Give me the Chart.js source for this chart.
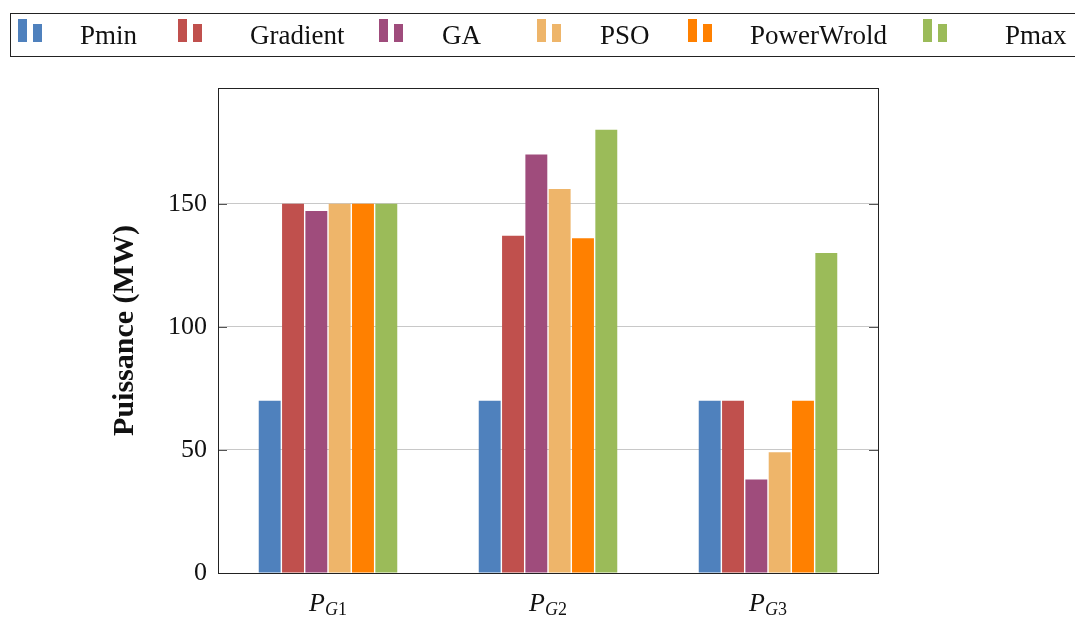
<!DOCTYPE html>
<html>
<head>
<meta charset="utf-8">
<script src="https://cdn.jsdelivr.net/npm/chart.js@4.4.0/dist/chart.umd.min.js"></script>
<style>
  html, body { margin: 0; padding: 0; background: #ffffff; }
  #wrap { position: relative; width: 1075px; height: 617px; overflow: hidden; }
  #myChart { position: absolute; left: 0; top: 0; }
  #legendBox {
    position: absolute; left: 10px; top: 13px; width: 1100px; height: 44px;
    border: 1px solid #222222; box-sizing: border-box;
  }
  .legBar { position: absolute; }
  .legText {
    position: absolute; font-family: "Liberation Serif", serif; font-size: 27px;
    line-height: 27px; color: #111111; white-space: nowrap;
  }
</style>
</head>
<body>
<div id="wrap">
  <canvas id="myChart" width="1075" height="617"></canvas>
  <div id="legendBox"></div>
</div>
<script>
// data
var categories = ['P_G1', 'P_G2', 'P_G3'];
var seriesNames = ['Pmin', 'Gradient', 'GA', 'PSO', 'PowerWrold', 'Pmax'];
var pmin = [70, 70, 70];
var gradient = [150, 137, 70];
var ga = [147, 170, 38];
var pso = [150, 156, 49];
var powerWrold = [150, 136, 70];
var pmax = [150, 180, 130];
var yTicks = [0, 50, 100, 150];

var seriesValues = [pmin, gradient, ga, pso, powerWrold, pmax];
var seriesColors = ['#4F81BD', '#C0504D', '#9F4C7C', '#EEB56A', '#FF8000', '#9BBB59'];

// Build the legend (two little bars + name), pgfplots style
function buildLegend() {
  var box = document.getElementById('legendBox');
  var iconX = [7, 167, 368, 526, 677, 912];   // relative to the box
  var textX = [69, 239, 431, 589, 739, 994];
  for (var i = 0; i < seriesNames.length; i++) {
    var b1 = document.createElement('div');
    b1.className = 'legBar';
    b1.style.left = iconX[i] + 'px'; b1.style.top = '5px';
    b1.style.width = '9px'; b1.style.height = '23px';
    b1.style.background = seriesColors[i];
    box.appendChild(b1);

    var b2 = document.createElement('div');
    b2.className = 'legBar';
    b2.style.left = (iconX[i] + 15) + 'px'; b2.style.top = '10px';
    b2.style.width = '9px'; b2.style.height = '18px';
    b2.style.background = seriesColors[i];
    box.appendChild(b2);

    var t = document.createElement('span');
    t.className = 'legText';
    t.style.left = textX[i] + 'px'; t.style.top = '8px';
    t.textContent = seriesNames[i];
    box.appendChild(t);
  }
}
buildLegend();

// Box around the plot, inner tick marks and the P_{Gi} labels
var framePlugin = {
  id: 'frame',
  afterDraw: function(chart) {
    var ctx = chart.ctx;
    var area = chart.chartArea;
    var yScale = chart.scales.y;
    var xScale = chart.scales.x;
    ctx.save();

    // tick marks on left and right, inside
    ctx.strokeStyle = '#555555';
    ctx.lineWidth = 1;
    for (var i = 0; i < yTicks.length; i++) {
      var py = Math.round(yScale.getPixelForValue(yTicks[i])) + 0.5;
      ctx.beginPath();
      ctx.moveTo(area.left, py); ctx.lineTo(area.left + 9, py);
      ctx.moveTo(area.right, py); ctx.lineTo(area.right - 9, py);
      ctx.stroke();
    }

    // frame
    ctx.strokeStyle = '#222222';
    ctx.strokeRect(Math.round(area.left) + 0.5, Math.round(area.top) + 0.5,
                   Math.round(area.right - area.left), Math.round(area.bottom - area.top));

    // category labels with subscript
    ctx.fillStyle = '#111111';
    ctx.textBaseline = 'alphabetic';
    ctx.textAlign = 'left';
    for (var j = 0; j < categories.length; j++) {
      var parts = categories[j].split('_');
      var main = parts[0];
      var subLetter = parts[1].replace(/[0-9]/g, '');
      var subNum = parts[1].replace(/[^0-9]/g, '');
      var mainFont = 'italic 26px "Liberation Serif"';
      var subFontI = 'italic 18px "Liberation Serif"';
      var subFontR = '18px "Liberation Serif"';
      ctx.font = mainFont; var w1 = ctx.measureText(main).width;
      ctx.font = subFontI; var w2 = ctx.measureText(subLetter).width;
      ctx.font = subFontR; var w3 = ctx.measureText(subNum).width;
      var total = w1 + w2 + w3;
      var x0 = xScale.getPixelForValue(j) - total / 2;
      ctx.font = mainFont; ctx.fillText(main, x0, 611);
      ctx.font = subFontI; ctx.fillText(subLetter, x0 + w1, 615);
      ctx.font = subFontR; ctx.fillText(subNum, x0 + w1 + w2, 615);
    }
    ctx.restore();
  }
};

var datasets = [];
for (var k = 0; k < seriesNames.length; k++) {
  datasets.push({
    label: seriesNames[k],
    data: seriesValues[k],
    backgroundColor: seriesColors[k],
    borderWidth: 0,
    categoryPercentage: 0.636,
    barPercentage: 0.94
  });
}

var ctx = document.getElementById('myChart').getContext('2d');
var myChart = new Chart(ctx, {
  type: 'bar',
  data: { labels: categories, datasets: datasets },
  options: {
    responsive: false,
    animation: false,
    layout: { padding: { top: 88, right: 197, bottom: 0, left: 95 } },
    scales: {
      x: {
        grid: { display: false },
        border: { display: false },
        ticks: { display: false },
        afterFit: function(scale) { scale.height = 44; }
      },
      y: {
        min: 0,
        max: 197,
        afterBuildTicks: function(scale) {
          scale.ticks = yTicks.map(function(v) { return { value: v }; });
        },
        grid: { color: '#c8c8c8', lineWidth: 1, drawTicks: false },
        border: { display: false },
        ticks: {
          color: '#111111',
          padding: 11,
          font: { family: '"Liberation Serif"', size: 26 }
        },
        title: {
          display: true,
          text: 'Puissance (MW)',
          color: '#111111',
          padding: { top: 12, bottom: 0 },
          font: { family: '"Liberation Serif"', size: 30, weight: 'bold' }
        },
        afterFit: function(scale) { scale.width = 123; }
      }
    },
    plugins: {
      legend: { display: false },
      tooltip: { enabled: false }
    }
  },
  plugins: [framePlugin]
});
</script>
</body>
</html>
